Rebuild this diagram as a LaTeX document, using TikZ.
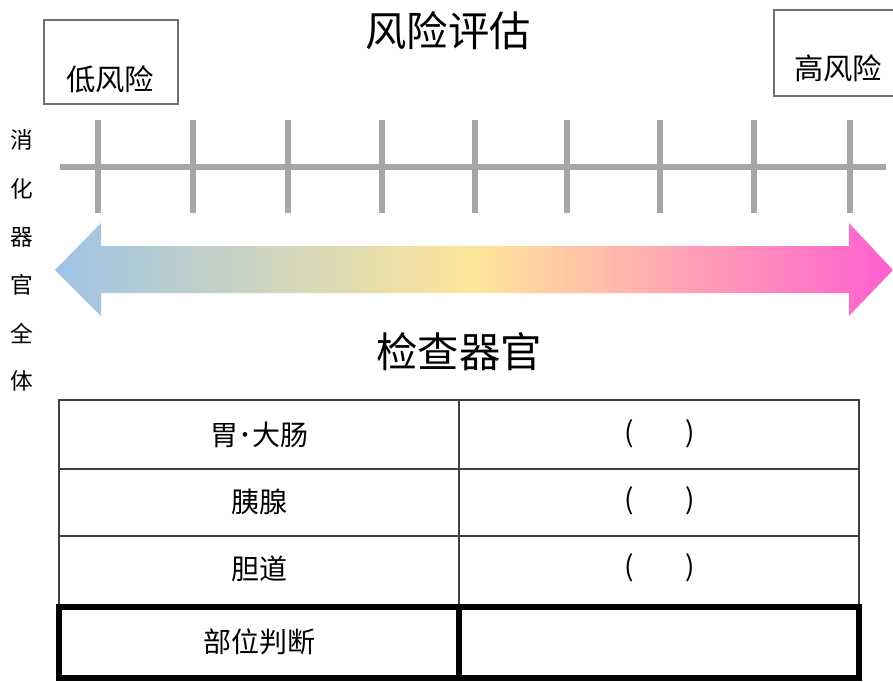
\documentclass[tikz,border=0pt]{standalone}
\usepackage{fontspec}
\setmainfont{Noto Sans CJK SC}
\definecolor{axisgray}{HTML}{A6A6A6}
\definecolor{boxgray}{HTML}{707070}
\definecolor{gblue}{HTML}{9DC3E6}
\definecolor{gyellow}{HTML}{FFE699}
\definecolor{gpink}{HTML}{FF5FD0}
\definecolor{tgray}{HTML}{404040}
\begin{document}
\begin{tikzpicture}[x=0.75pt,y=-0.75pt,
  riskbox/.style={draw=boxgray,line width=1.6pt,fill=white},
  risktext/.style={font=\fontsize{22pt}{24pt}\selectfont},
  titletext/.style={font=\fontsize{31pt}{34pt}\selectfont},
  vtext/.style={font=\fontsize{17pt}{19pt}\selectfont},
  celltext/.style={font=\fontsize{21pt}{23pt}\selectfont},
  axisline/.style={draw=axisgray,line width=3.8pt},
  thinrule/.style={draw=tgray,line width=1.1pt},
  thickrule/.style={draw=black,line width=3.8pt}]
\useasboundingbox (0,0) rectangle (893,682);

% title
\node[titletext] (title) at (448,31) {风险评估};

% risk boxes
\draw[riskbox] (44,20) rectangle (178,104);
\node[risktext] (low) at (110,79) {低风险};
\draw[riskbox] (774,10) rectangle (900,96);
\node[risktext] (high) at (838,68) {高风险};

% axis
\draw[axisline] (60,167) -- (886,167);
\foreach \x in {98,193,288,382,475,567,660,754,850}
  \draw[axisline] (\x,120) -- (\x,213);

% vertical text
\foreach \c/\y in {消/140,化/189,器/237,官/285,全/333,体/381}
  \node[vtext] at (22,\y) {\c};

% gradient double arrow
\shade[left color=gblue,right color=gpink,middle color=gyellow]
  (55,270) -- (101,223) -- (101,246) -- (849,246) -- (849,223) -- (893,270)
  -- (849,316) -- (849,293) -- (101,293) -- (101,316) -- cycle;

% subtitle
\node[titletext] (organs) at (459,352) {检查器官};

% table
\draw[thinrule] (59,400) rectangle (859,607);
\draw[thinrule] (59,469) -- (859,469);
\draw[thinrule] (59,536) -- (859,536);
\draw[thinrule] (459,400) -- (459,607);
\draw[thickrule] (59,607) rectangle (859,678);
\draw[thickrule] (459,607) -- (459,678);

\node[celltext] (r1) at (259,435) {胃･大肠};
\node[celltext] (r2) at (259,502) {胰腺};
\node[celltext] (r3) at (259,569) {胆道};
\node[celltext] (r4) at (259,642) {部位判断};

\node[celltext] (p1) at (660,434) {\makebox[53pt]{(\hfill)}};
\node[celltext] (p2) at (660,501) {\makebox[53pt]{(\hfill)}};
\node[celltext] (p3) at (660,568) {\makebox[53pt]{(\hfill)}};
\end{tikzpicture}
\end{document}
